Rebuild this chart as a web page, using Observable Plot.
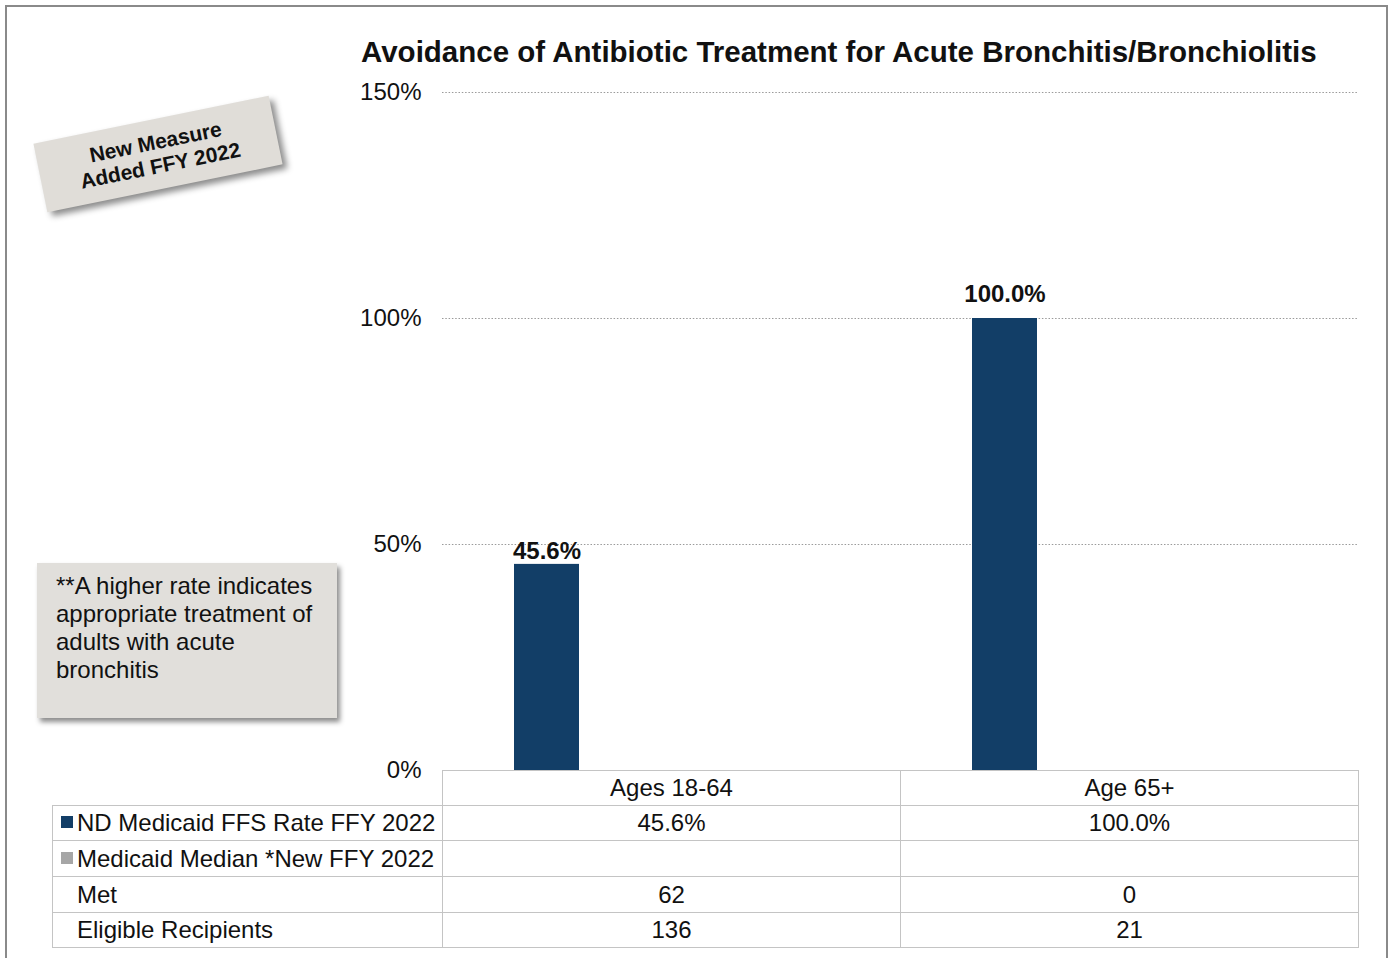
<!DOCTYPE html>
<html>
<head>
<meta charset="utf-8">
<script src="https://cdn.jsdelivr.net/npm/d3@7"></script>
<script src="https://cdn.jsdelivr.net/npm/@observablehq/plot@0.6"></script>
<style>
  html, body { margin: 0; padding: 0; background: #fff; }
  body { font-family: "Liberation Sans", Arial, sans-serif; color: #111; }
  #wrap { position: relative; width: 1394px; height: 958px; overflow: hidden; background: #fff; }
  #frame { position: absolute; left: 5px; top: 5px; width: 1383px; height: 980px; border: 2px solid #8a8a8a; box-sizing: border-box; }
  #title { position: absolute; left: 361px; top: 37px; font-size: 29.5px; line-height: 29.5px; font-weight: bold; white-space: nowrap; color: #111; }
  #chart { position: absolute; left: 0; top: 0; }
  #note1 { position: absolute; left: 38px; top: 119px; width: 240px; height: 70px; background: #E0DDD8;
           transform: rotate(-11.5deg); box-shadow: 4px 5px 6px rgba(0,0,0,0.45);
           display: flex; flex-direction: column; justify-content: center; align-items: center;
           font-weight: bold; font-size: 21px; line-height: 24px; color: #111; }
  #note2 { position: absolute; left: 37px; top: 563px; width: 300px; height: 155px; background: #E1DFDB;
           box-shadow: 3px 4px 5px rgba(0,0,0,0.45); box-sizing: border-box; padding: 9px 0 0 19px;
           font-size: 24px; line-height: 28px; color: #111; }
  #tbl { position: absolute; left: 52px; top: 770px; border-collapse: collapse; table-layout: fixed; font-size: 24px; color: #111; background: transparent; }
  #tbl td { border: 1.5px solid #C4C4C4; padding: 0; text-align: center; white-space: nowrap; }
  #tbl td.lab { text-align: left; padding-left: 24px; position: relative; }
  #tbl td.blank { border-top: none; border-left: none; }
  .sw { position: absolute; left: 8px; top: 50%; width: 12px; height: 12px; margin-top: -7px; }
</style>
</head>
<body>
<div id="wrap">
  <div id="frame"></div>
  <div id="chart"></div>
  <div id="title"></div>
  <div id="note1"></div>
  <div id="note2"></div>
  <table id="tbl"></table>
</div>
<script>
// ---- data ----
const titleText = "Avoidance of Antibiotic Treatment for Acute Bronchitis/Bronchiolitis";
const categories = ["Ages 18-64", "Age 65+"];
const seriesNames = ["ND Medicaid FFS Rate FFY 2022", "Medicaid Median *New FFY 2022"];
const seriesColors = ["#123E67", "#A6A6A6"];
const ndRate = [45.6, 100.0];
const medianRate = [null, null];
const metCounts = [62, 0];
const eligibleCounts = [136, 21];
const yTicks = [0, 50, 100, 150];
const gridTicks = [50, 100, 150];
const note1Lines = ["New Measure", "Added FFY 2022"];
const note2Lines = ["**A higher rate indicates", "appropriate treatment of", "adults with acute", "bronchitis"];

// ---- build rows ----
const seriesValues = [ndRate, medianRate];
const rows = [];
categories.forEach((c, i) => {
  seriesNames.forEach((s, j) => {
    rows.push({category: c, series: s, value: seriesValues[j][i]});
  });
});
const barRows = rows.filter(d => d.value != null);
const fmtPct = v => v == null ? "" : v.toFixed(1) + "%";

// ---- chart ----
const chart = Plot.plot({
  width: 1394,
  height: 795,
  marginLeft: 442,
  marginRight: 36,
  marginTop: 92,
  marginBottom: 25,
  style: {fontFamily: "Liberation Sans, Arial, sans-serif", fontSize: "24px", color: "#111", background: "transparent"},
  fx: {domain: categories, padding: 0, axis: null},
  x: {domain: seriesNames, paddingInner: 0.739, paddingOuter: 0.289, axis: null},
  y: {domain: [0, 150], ticks: yTicks, tickFormat: d => d + "%", tickSize: 0, tickPadding: 21, label: null},
  color: {domain: seriesNames, range: seriesColors},
  marks: [
    Plot.ruleY(gridTicks, {stroke: "#9a9a9a", strokeWidth: 1.2, strokeDasharray: "1.5,1.8"}),
    Plot.barY(barRows, {fx: "category", x: "series", y: "value", fill: "series"}),
    Plot.text(barRows.filter(d => d.category === categories[0]), {fx: "category", x: "series", y: "value", text: d => fmtPct(d.value),
      lineAnchor: "bottom", dy: -5, fontWeight: "bold", fontSize: 24, fill: "#111"}),
    Plot.text(barRows.filter(d => d.category !== categories[0]), {fx: "category", x: "series", y: "value", text: d => fmtPct(d.value),
      lineAnchor: "bottom", dy: -17, fontWeight: "bold", fontSize: 24, fill: "#111"})
  ]
});
document.getElementById("chart").appendChild(chart);

// ---- title & notes ----
document.getElementById("title").textContent = titleText;
const n1 = document.getElementById("note1");
note1Lines.forEach(t => { const d = document.createElement("div"); d.textContent = t; n1.appendChild(d); });
const n2 = document.getElementById("note2");
note2Lines.forEach(t => { const d = document.createElement("div"); d.textContent = t; n2.appendChild(d); });

// ---- data table ----
const tbl = document.getElementById("tbl");
const colgroup = document.createElement("colgroup");
[390, 458, 458].forEach(w => { const c = document.createElement("col"); c.style.width = w + "px"; colgroup.appendChild(c); });
tbl.appendChild(colgroup);
function addRow(label, values, height, swatch, blank) {
  const tr = document.createElement("tr");
  tr.style.height = height + "px";
  const th = document.createElement("td");
  th.className = blank ? "blank" : "lab";
  if (!blank) {
    if (swatch) { const s = document.createElement("span"); s.className = "sw"; s.style.background = swatch; th.appendChild(s); }
    th.appendChild(document.createTextNode(label));
  }
  tr.appendChild(th);
  values.forEach(v => { const td = document.createElement("td"); td.textContent = v; tr.appendChild(td); });
  tbl.appendChild(tr);
}
addRow("", categories, 35, null, true);
addRow(seriesNames[0], ndRate.map(fmtPct), 35, seriesColors[0]);
addRow(seriesNames[1], medianRate.map(fmtPct), 36, seriesColors[1]);
addRow("Met", metCounts.map(String), 36, null);
addRow("Eligible Recipients", eligibleCounts.map(String), 35, null);
</script>
</body>
</html>
